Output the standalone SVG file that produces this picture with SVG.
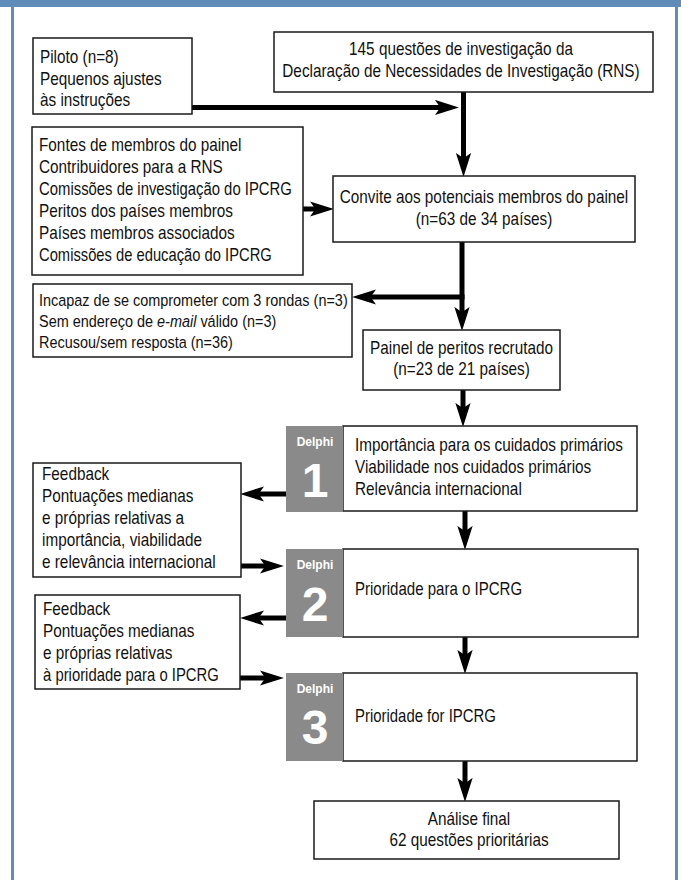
<svg xmlns="http://www.w3.org/2000/svg" width="681" height="880" viewBox="0 0 681 880">
<style>
.box{fill:#fff;stroke:#1a1a1a;stroke-width:1.5}
.t{font-family:"Liberation Sans",Arial,sans-serif;font-size:17.5px;fill:#111}
.s{font-family:"Liberation Sans",Arial,sans-serif;font-size:16.5px;fill:#111}
.c{text-anchor:middle}
.gray{fill:#8a8a8a}
.dl{font-family:"Liberation Sans",Arial,sans-serif;font-size:12px;font-weight:bold;fill:#fff;text-anchor:middle}
.dn{font-family:"Liberation Sans",Arial,sans-serif;font-size:48px;font-weight:bold;fill:#fff;text-anchor:middle}
.ln{stroke:#000;stroke-width:5;fill:none;marker-end:url(#ah)}
.frame{fill:#5f8cb9}
</style>
<defs>
<marker id="ah" markerUnits="userSpaceOnUse" markerWidth="24" markerHeight="16" refX="12" refY="7" orient="auto" viewBox="0 0 22 14">
<path d="M0,0 L22,7 L0,14 L5,7 z" fill="#000"/>
</marker>
</defs>
<rect width="681" height="880" fill="#fff"/>
<rect class="frame" x="0" y="0" width="681" height="7"/>
<rect class="frame" x="11" y="0" width="3" height="880"/>
<rect class="frame" x="675" y="0" width="3" height="880"/>

<g id="connectors">
<path class="ln" d="M192,107.5 H448"/>
<path class="ln" d="M463.5,92 V166"/>
<path class="ln" d="M303,209 H323"/>
<path class="ln" d="M462,242 V320"/>
<path class="ln" d="M464.5,297 H363"/>
<path class="ln" d="M463,390 V416"/>
<path class="ln" d="M286,494 H251"/>
<path class="ln" d="M241,566 H273"/>
<path class="ln" d="M465,511 V539"/>
<path class="ln" d="M286,618 H251"/>
<path class="ln" d="M240,678 H273"/>
<path class="ln" d="M465,637 V663"/>
<path class="ln" d="M465,761 V791"/>
</g>

<g id="piloto">
<rect class="box" x="33" y="38" width="159" height="76"/>
<g transform="translate(40,0) scale(0.875,1)">
<text class="t" x="0" y="63">Piloto (n=8)</text>
<text class="t" x="0" y="85">Pequenos ajustes</text>
<text class="t" x="0" y="106">às instruções</text>
</g>
</g>

<g id="rns">
<rect class="box" x="274" y="32" width="379" height="60"/>
<g transform="translate(461,0) scale(0.875,1)">
<text class="t c" x="0" y="55">145 questões de investigação da</text>
<text class="t c" x="0" y="77">Declaração de Necessidades de Investigação (RNS)</text>
</g>
</g>

<g id="fontes">
<rect class="box" x="32" y="127" width="271" height="148"/>
<g transform="translate(39,0) scale(0.875,1)">
<text class="t" x="0" y="151">Fontes de membros do painel</text>
<text class="t" x="0" y="173">Contribuidores para a RNS</text>
<text class="t" x="0" y="195" textLength="289" lengthAdjust="spacingAndGlyphs">Comissões de investigação do IPCRG</text>
<text class="t" x="0" y="217">Peritos dos países membros</text>
<text class="t" x="0" y="239">Países membros associados</text>
<text class="t" x="0" y="261" textLength="266" lengthAdjust="spacingAndGlyphs">Comissões de educação do IPCRG</text>
</g>
</g>

<g id="convite">
<rect class="box" x="333" y="176" width="302" height="66"/>
<g transform="translate(484,0) scale(0.875,1)">
<text class="t c" x="0" y="203">Convite aos potenciais membros do painel</text>
<text class="t c" x="0" y="225">(n=63 de 34 países)</text>
</g>
</g>

<g id="exclusoes">
<rect class="box" x="33" y="284" width="319" height="73"/>
<g transform="translate(39,0) scale(0.876,1)">
<text class="s" x="0" y="306">Incapaz de se comprometer com 3 rondas (n=3)</text>
<text class="s" x="0" y="327">Sem endereço de <tspan font-style="italic">e-mail</tspan> válido (n=3)</text>
<text class="s" x="0" y="348">Recusou/sem resposta (n=36)</text>
</g>
</g>

<g id="painel">
<rect class="box" x="363" y="330" width="197" height="60"/>
<g transform="translate(461.5,0) scale(0.875,1)">
<text class="t c" x="0" y="354">Painel de peritos recrutado</text>
<text class="t c" x="0" y="375">(n=23 de 21 países)</text>
</g>
</g>

<g id="delphi1">
<rect class="box" x="343" y="426" width="294" height="85"/>
<rect class="gray" x="286" y="426" width="57" height="86"/>
<text class="dl" x="315" y="446">Delphi</text>
<text class="dn" x="315" y="497">1</text>
<g transform="translate(355,0) scale(0.875,1)">
<text class="t" x="0" y="451">Importância para os cuidados primários</text>
<text class="t" x="0" y="473">Viabilidade nos cuidados primários</text>
<text class="t" x="0" y="495">Relevância internacional</text>
</g>
</g>

<g id="feedback1">
<rect class="box" x="33" y="463" width="208" height="114"/>
<g transform="translate(42,0) scale(0.875,1)">
<text class="t" x="0" y="480">Feedback</text>
<text class="t" x="0" y="502">Pontuações medianas</text>
<text class="t" x="0" y="524">e próprias relativas a</text>
<text class="t" x="0" y="546">importância, viabilidade</text>
<text class="t" x="0" y="568">e relevância internacional</text>
</g>
</g>

<g id="delphi2">
<rect class="box" x="343" y="549" width="295" height="88"/>
<rect class="gray" x="286" y="549" width="57" height="88"/>
<text class="dl" x="315" y="569">Delphi</text>
<text class="dn" x="315" y="621">2</text>
<g transform="translate(355,0) scale(0.875,1)">
<text class="t" x="0" y="595" textLength="191" lengthAdjust="spacingAndGlyphs">Prioridade para o IPCRG</text>
</g>
</g>

<g id="feedback2">
<rect class="box" x="35" y="595" width="205" height="94"/>
<g transform="translate(43,0) scale(0.875,1)">
<text class="t" x="0" y="615">Feedback</text>
<text class="t" x="0" y="637">Pontuações medianas</text>
<text class="t" x="0" y="659">e próprias relativas</text>
<text class="t" x="0" y="681" textLength="201" lengthAdjust="spacingAndGlyphs">à prioridade para o IPCRG</text>
</g>
</g>

<g id="delphi3">
<rect class="box" x="343" y="673" width="294" height="88"/>
<rect class="gray" x="286" y="673" width="57" height="88"/>
<text class="dl" x="315" y="693">Delphi</text>
<text class="dn" x="315" y="744">3</text>
<g transform="translate(355,0) scale(0.875,1)">
<text class="t" x="0" y="722" textLength="161" lengthAdjust="spacingAndGlyphs">Prioridade for IPCRG</text>
</g>
</g>

<g id="analise">
<rect class="box" x="314" y="801" width="305" height="58"/>
<g transform="translate(469,0) scale(0.875,1)">
<text class="t c" x="0" y="825">Análise final</text>
<text class="t c" x="0" y="846">62 questões prioritárias</text>
</g>
</g>
</svg>
